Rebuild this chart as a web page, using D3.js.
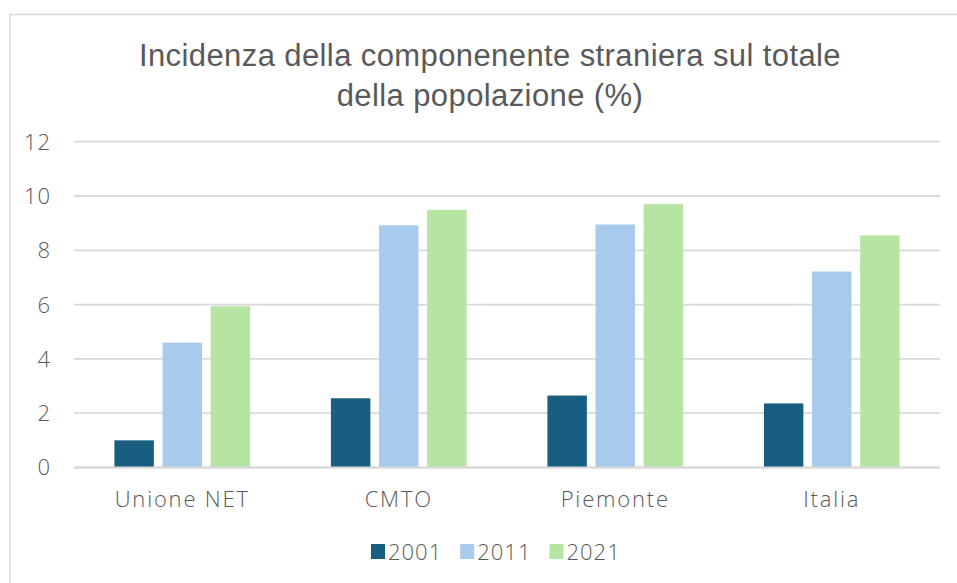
<!DOCTYPE html>
<html>
<head>
<meta charset="utf-8">
<script src="https://cdnjs.cloudflare.com/ajax/libs/d3/7.8.5/d3.min.js"></script>
<style>
  body { margin: 0; background: #fff; }
  svg { display: block; }
  .tick-label, .cat-label, .legend-label { font-family: "Open Sans", sans-serif; font-weight: 300; fill: #595959; }
</style>
</head>
<body>
<div id="chart"></div>
<script>
// data
var categories = ["Unione NET", "CMTO", "Piemonte", "Italia"];
var seriesNames = ["2001", "2011", "2021"];
var values2001 = [1.0, 2.55, 2.65, 2.36];
var values2011 = [4.6, 8.92, 8.95, 7.22];
var values2021 = [5.94, 9.49, 9.7, 8.55];
var yTicks = [0, 2, 4, 6, 8, 10, 12];
var colors = ["#175e80", "#a8caec", "#b6e5a3"];
var titleLines = ["Incidenza della componenente straniera sul totale", "della popolazione (%)"];

var W = 957, H = 583;
var svg = d3.select("#chart").append("svg").attr("width", W).attr("height", H);

// outer frame (runs off right/bottom edge)
svg.append("rect")
    .attr("x", 10).attr("y", 14.5)
    .attr("width", 980).attr("height", 600)
    .attr("fill", "none").attr("stroke", "#d9d9d9").attr("stroke-width", 1.5);

// title
svg.append("g").selectAll("text")
    .data(titleLines)
    .enter().append("text")
    .attr("x", 490)
    .attr("y", (d, i) => 66 + i * 40)
    .attr("text-anchor", "middle")
    .style("font-family", "'Liberation Sans', Arial, sans-serif")
    .style("font-size", "31px")
    .style("letter-spacing", "0.4px")
    .style("fill", "#595959")
    .text(d => d);

var rows = categories.map((c, i) => ({
    cat: c,
    vals: [values2001[i], values2011[i], values2021[i]]
}));

var x0 = d3.scaleBand().domain(categories).range([74, 940]).padding(0);
var x1 = d3.scaleBand().domain(seriesNames).range([0, x0.bandwidth()])
    .paddingInner(0.18).paddingOuter(0.84);
var y = d3.scaleLinear().domain([0, 12]).range([467.5, 141.7]);

// gridlines
svg.append("g").selectAll("line")
    .data(yTicks)
    .enter().append("line")
    .attr("x1", 74).attr("x2", 940)
    .attr("y1", d => y(d)).attr("y2", d => y(d))
    .attr("stroke", "#d9d9d9").attr("stroke-width", 1.8);

// y tick labels
svg.append("g").selectAll("text")
    .data(yTicks)
    .enter().append("text")
    .attr("class", "tick-label")
    .attr("x", 51)
    .attr("y", d => y(d))
    .attr("dy", "0.36em")
    .attr("text-anchor", "end")
    .style("font-size", "22px")
    .style("letter-spacing", "1px")
    .text(d => d);

// bars
var groups = svg.append("g").selectAll("g")
    .data(rows)
    .enter().append("g")
    .attr("transform", d => "translate(" + x0(d.cat) + ",0)");

groups.selectAll("rect")
    .data(d => d.vals.map((v, i) => ({ key: seriesNames[i], v: v, i: i })))
    .enter().append("rect")
    .attr("x", d => x1(d.key))
    .attr("width", x1.bandwidth())
    .attr("y", d => y(d.v))
    .attr("height", d => y(0) - y(d.v))
    .attr("fill", d => colors[d.i]);

// redraw baseline over bars
svg.append("line")
    .attr("x1", 74).attr("x2", 940)
    .attr("y1", y(0)).attr("y2", y(0))
    .attr("stroke", "#d9d9d9").attr("stroke-width", 1.8);

// category labels
svg.append("g").selectAll("text")
    .data(categories)
    .enter().append("text")
    .attr("class", "cat-label")
    .attr("x", d => x0(d) + x0.bandwidth() / 2)
    .attr("y", 507)
    .attr("text-anchor", "middle")
    .style("font-size", "22px")
    .style("letter-spacing", "1.8px")
    .text(d => d);

// legend
var legend = svg.append("g");
var lx = 371;
seriesNames.forEach((s, i) => {
    legend.append("rect")
        .attr("x", lx).attr("y", 544)
        .attr("width", 14).attr("height", 15)
        .attr("fill", colors[i]);
    var t = legend.append("text")
        .attr("class", "legend-label")
        .attr("x", lx + 17).attr("y", 560)
        .style("font-size", "22px")
        .style("letter-spacing", "1px")
        .text(s);
    lx += 17 + t.node().getComputedTextLength() + 18;
});
</script>
</body>
</html>
